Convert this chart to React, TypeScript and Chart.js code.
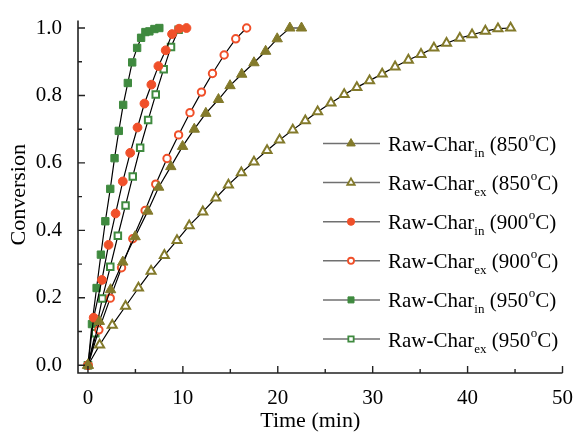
import React, { useEffect, useRef } from 'react';
import { Chart, registerables } from 'chart.js';
import { drawPoint } from 'chart.js/helpers';

Chart.register(...registerables);

// Conversion vs. time for raw char, in-situ ("in") and ex-situ ("ex"), at three temperatures
const TIME_850_IN = [0, 1.2, 2.38, 3.67, 4.97, 6.3, 7.45, 8.73, 9.97, 11.2, 12.42, 13.75, 14.97, 16.2, 17.49, 18.72, 19.94, 21.27, 22.5];
const CONV_850_IN = [0, 0.13, 0.224, 0.306, 0.381, 0.457, 0.528, 0.589, 0.649, 0.7, 0.747, 0.788, 0.829, 0.863, 0.897, 0.931, 0.968, 1.0, 1.0];

const TIME_850_EX = [0, 1.23, 2.56, 3.96, 5.32, 6.65, 8.05, 9.38, 10.67, 12.1, 13.47, 14.8, 16.16, 17.49, 18.87, 20.19, 21.58, 22.9, 24.2, 25.6, 27.0, 28.33, 29.67, 31.0, 32.36, 33.76, 35.09, 36.45, 37.78, 39.18, 40.47, 41.87, 43.2, 44.53];
const CONV_850_EX = [0, 0.06, 0.119, 0.175, 0.229, 0.279, 0.326, 0.37, 0.414, 0.455, 0.496, 0.535, 0.571, 0.603, 0.637, 0.668, 0.698, 0.725, 0.752, 0.778, 0.803, 0.824, 0.844, 0.864, 0.885, 0.905, 0.922, 0.941, 0.955, 0.97, 0.98, 0.991, 0.998, 1.0];

const TIME_900_IN = [0, 0.6, 1.47, 2.17, 2.91, 3.67, 4.45, 5.22, 5.95, 6.68, 7.42, 8.19, 8.86, 9.6, 10.38];
const CONV_900_IN = [0, 0.141, 0.253, 0.357, 0.45, 0.545, 0.63, 0.705, 0.776, 0.832, 0.887, 0.934, 0.982, 0.998, 1.0];

const TIME_900_EX = [0, 1.15, 2.35, 3.54, 4.72, 6.02, 7.14, 8.33, 9.55, 10.75, 11.96, 13.12, 14.35, 15.57, 16.72];
const CONV_900_EX = [0, 0.105, 0.199, 0.289, 0.375, 0.459, 0.537, 0.613, 0.683, 0.749, 0.81, 0.865, 0.92, 0.968, 1.0];

const TIME_950_IN = [0, 0.42, 0.91, 1.36, 1.83, 2.35, 2.8, 3.25, 3.71, 4.2, 4.66, 5.18, 5.6, 6.05, 6.47, 7.0, 7.52];
const CONV_950_IN = [0, 0.122, 0.229, 0.328, 0.427, 0.523, 0.614, 0.695, 0.772, 0.837, 0.898, 0.941, 0.971, 0.988, 0.99, 0.997, 1.0];

const TIME_950_EX = [0, 0.77, 1.51, 2.35, 3.15, 3.96, 4.72, 5.5, 6.34, 7.14, 7.98, 8.75, 9.55];
const CONV_950_EX = [0, 0.095, 0.198, 0.292, 0.384, 0.474, 0.56, 0.645, 0.727, 0.803, 0.878, 0.944, 0.995];

const X_TICKS = [0, 10, 20, 30, 40, 50];
const X_MINOR = [5, 15, 25, 35, 45];
const Y_TICKS = [0, 0.2, 0.4, 0.6, 0.8, 1.0];
const Y_MINOR = [0.1, 0.3, 0.5, 0.7, 0.9];

const X_TITLE = 'Time (min)';
const Y_TITLE = 'Conversion';
const SAMPLE_NAME = 'Raw-Char';

const OLIVE = '#837a2b';
const RED = '#f0502a';
const GREEN = '#3f8a3f';

const FONT = '"Liberation Serif", "Times New Roman", serif';

type Series = {
  temp: string;
  mode: string;
  x: number[];
  y: number[];
  color: string;
  style: 'triangle' | 'circle' | 'rect';
  filled: boolean;
  radius: number;
};

const SERIES: Series[] = [
  { temp: '850', mode: 'in', x: TIME_850_IN, y: CONV_850_IN, color: OLIVE, style: 'triangle', filled: true, radius: 6 },
  { temp: '850', mode: 'ex', x: TIME_850_EX, y: CONV_850_EX, color: OLIVE, style: 'triangle', filled: false, radius: 5.2 },
  { temp: '900', mode: 'in', x: TIME_900_IN, y: CONV_900_IN, color: RED, style: 'circle', filled: true, radius: 4.4 },
  { temp: '900', mode: 'ex', x: TIME_900_EX, y: CONV_900_EX, color: RED, style: 'circle', filled: false, radius: 3.7 },
  { temp: '950', mode: 'in', x: TIME_950_IN, y: CONV_950_IN, color: GREEN, style: 'rect', filled: true, radius: 5.2 },
  { temp: '950', mode: 'ex', x: TIME_950_EX, y: CONV_950_EX, color: GREEN, style: 'rect', filled: false, radius: 4.6 },
];

// Axis lines with inward ticks, axis titles and the legend with sub/superscripts
const decorPlugin = {
  id: 'decor',
  afterDraw(chart: any) {
    const { ctx, chartArea: a, scales } = chart;
    const xs = scales.x;
    const ys = scales.y;
    ctx.save();

    // axes
    ctx.strokeStyle = '#222';
    ctx.lineWidth = 1.6;
    ctx.beginPath();
    ctx.moveTo(a.left, a.top);
    ctx.lineTo(a.left, a.bottom);
    ctx.lineTo(a.right, a.bottom);
    ctx.stroke();

    ctx.lineWidth = 1.4;
    ctx.beginPath();
    X_TICKS.forEach((v) => {
      const px = xs.getPixelForValue(v);
      ctx.moveTo(px, a.bottom);
      ctx.lineTo(px, a.bottom - 7);
    });
    X_MINOR.forEach((v) => {
      const px = xs.getPixelForValue(v);
      ctx.moveTo(px, a.bottom);
      ctx.lineTo(px, a.bottom - 4);
    });
    Y_TICKS.forEach((v) => {
      const py = ys.getPixelForValue(v);
      ctx.moveTo(a.left, py);
      ctx.lineTo(a.left + 7, py);
    });
    Y_MINOR.forEach((v) => {
      const py = ys.getPixelForValue(v);
      ctx.moveTo(a.left, py);
      ctx.lineTo(a.left + 4, py);
    });
    ctx.stroke();

    // axis titles
    ctx.fillStyle = '#000';
    ctx.font = `22px ${FONT}`;
    ctx.textAlign = 'center';
    ctx.textBaseline = 'alphabetic';
    ctx.fillText(X_TITLE, (a.left + a.right) / 2 - 10, 427);
    ctx.save();
    ctx.translate(25, (a.top + a.bottom) / 2 - 2);
    ctx.rotate(-Math.PI / 2);
    ctx.fillText(Y_TITLE, 0, 0);
    ctx.restore();

    // legend
    const rowY0 = 143.5;
    const rowGap = 39.1;
    ctx.textAlign = 'left';
    SERIES.forEach((s, i) => {
      const cy = rowY0 + i * rowGap;
      ctx.strokeStyle = '#707070';
      ctx.lineWidth = 1.5;
      ctx.beginPath();
      ctx.moveTo(323, cy);
      ctx.lineTo(380, cy);
      ctx.stroke();

      ctx.fillStyle = s.filled ? s.color : '#fff';
      ctx.strokeStyle = s.color;
      ctx.lineWidth = s.filled ? 1 : 1.8;
      drawPoint(ctx, { pointStyle: s.style, rotation: 0, radius: s.radius * 0.82, borderWidth: ctx.lineWidth } as any, 351, cy);

      ctx.fillStyle = '#000';
      const base = cy + 7.5;
      let x = 388;
      ctx.font = `21px ${FONT}`;
      ctx.fillText(SAMPLE_NAME, x, base);
      x += ctx.measureText(SAMPLE_NAME).width;
      ctx.font = `13px ${FONT}`;
      ctx.fillText(s.mode, x, base + 6);
      x += ctx.measureText(s.mode).width;
      ctx.font = `21px ${FONT}`;
      const head = ` (${s.temp}`;
      ctx.fillText(head, x, base);
      x += ctx.measureText(head).width;
      ctx.font = `13px ${FONT}`;
      ctx.fillText('o', x + 0.5, base - 10);
      x += ctx.measureText('o').width + 0.5;
      ctx.font = `21px ${FONT}`;
      ctx.fillText('C)', x, base);
    });

    ctx.restore();
  },
};

export default function App() {
  const canvasRef = useRef<HTMLCanvasElement | null>(null);

  useEffect(() => {
    const canvas = canvasRef.current;
    if (!canvas) return;

    const datasets = SERIES.map((s) => ({
      label: `${SAMPLE_NAME} ${s.mode} (${s.temp}°C)`,
      data: s.x.map((t, i) => ({ x: t, y: s.y[i] })),
      borderColor: '#000',
      borderWidth: 1.2,
      tension: 0,
      fill: false,
      pointStyle: s.style,
      pointRadius: s.radius,
      pointHoverRadius: s.radius,
      pointBackgroundColor: s.filled ? s.color : '#fff',
      pointBorderColor: s.color,
      pointBorderWidth: s.filled ? 1 : 2,
    }));

    const chart = new Chart(canvas, {
      type: 'line',
      data: { datasets },
      options: {
        animation: false,
        responsive: false,
        devicePixelRatio: 1,
        layout: { padding: { top: 15, right: 13, left: 0, bottom: 0 } },
        plugins: {
          legend: { display: false },
          tooltip: { enabled: false },
        },
        scales: {
          x: {
            type: 'linear',
            min: -1.05,
            max: 50,
            grid: { display: false },
            border: { display: false },
            afterBuildTicks: (scale: any) => {
              scale.ticks = X_TICKS.map((v) => ({ value: v }));
            },
            afterFit: (scale: any) => {
              scale.height = 59;
            },
            ticks: {
              color: '#000',
              font: { family: FONT, size: 21 },
              padding: 5,
              maxRotation: 0,
              autoSkip: false,
              callback: (v: any) => String(v),
            },
          },
          y: {
            type: 'linear',
            min: -0.023,
            max: 1.022,
            grid: { display: false },
            border: { display: false },
            afterBuildTicks: (scale: any) => {
              scale.ticks = Y_TICKS.map((v) => ({ value: v }));
            },
            afterFit: (scale: any) => {
              scale.width = 78;
            },
            ticks: {
              color: '#000',
              font: { family: FONT, size: 21 },
              padding: 8,
              autoSkip: false,
              callback: (v: any) => Number(v).toFixed(1),
            },
          },
        },
      },
      plugins: [decorPlugin],
    });

    return () => chart.destroy();
  }, []);

  return (
    <div style={{ position: 'fixed', left: 0, top: 0, width: 578, height: 432, background: '#fff' }}>
      <canvas ref={canvasRef} width={578} height={432} />
    </div>
  );
}
